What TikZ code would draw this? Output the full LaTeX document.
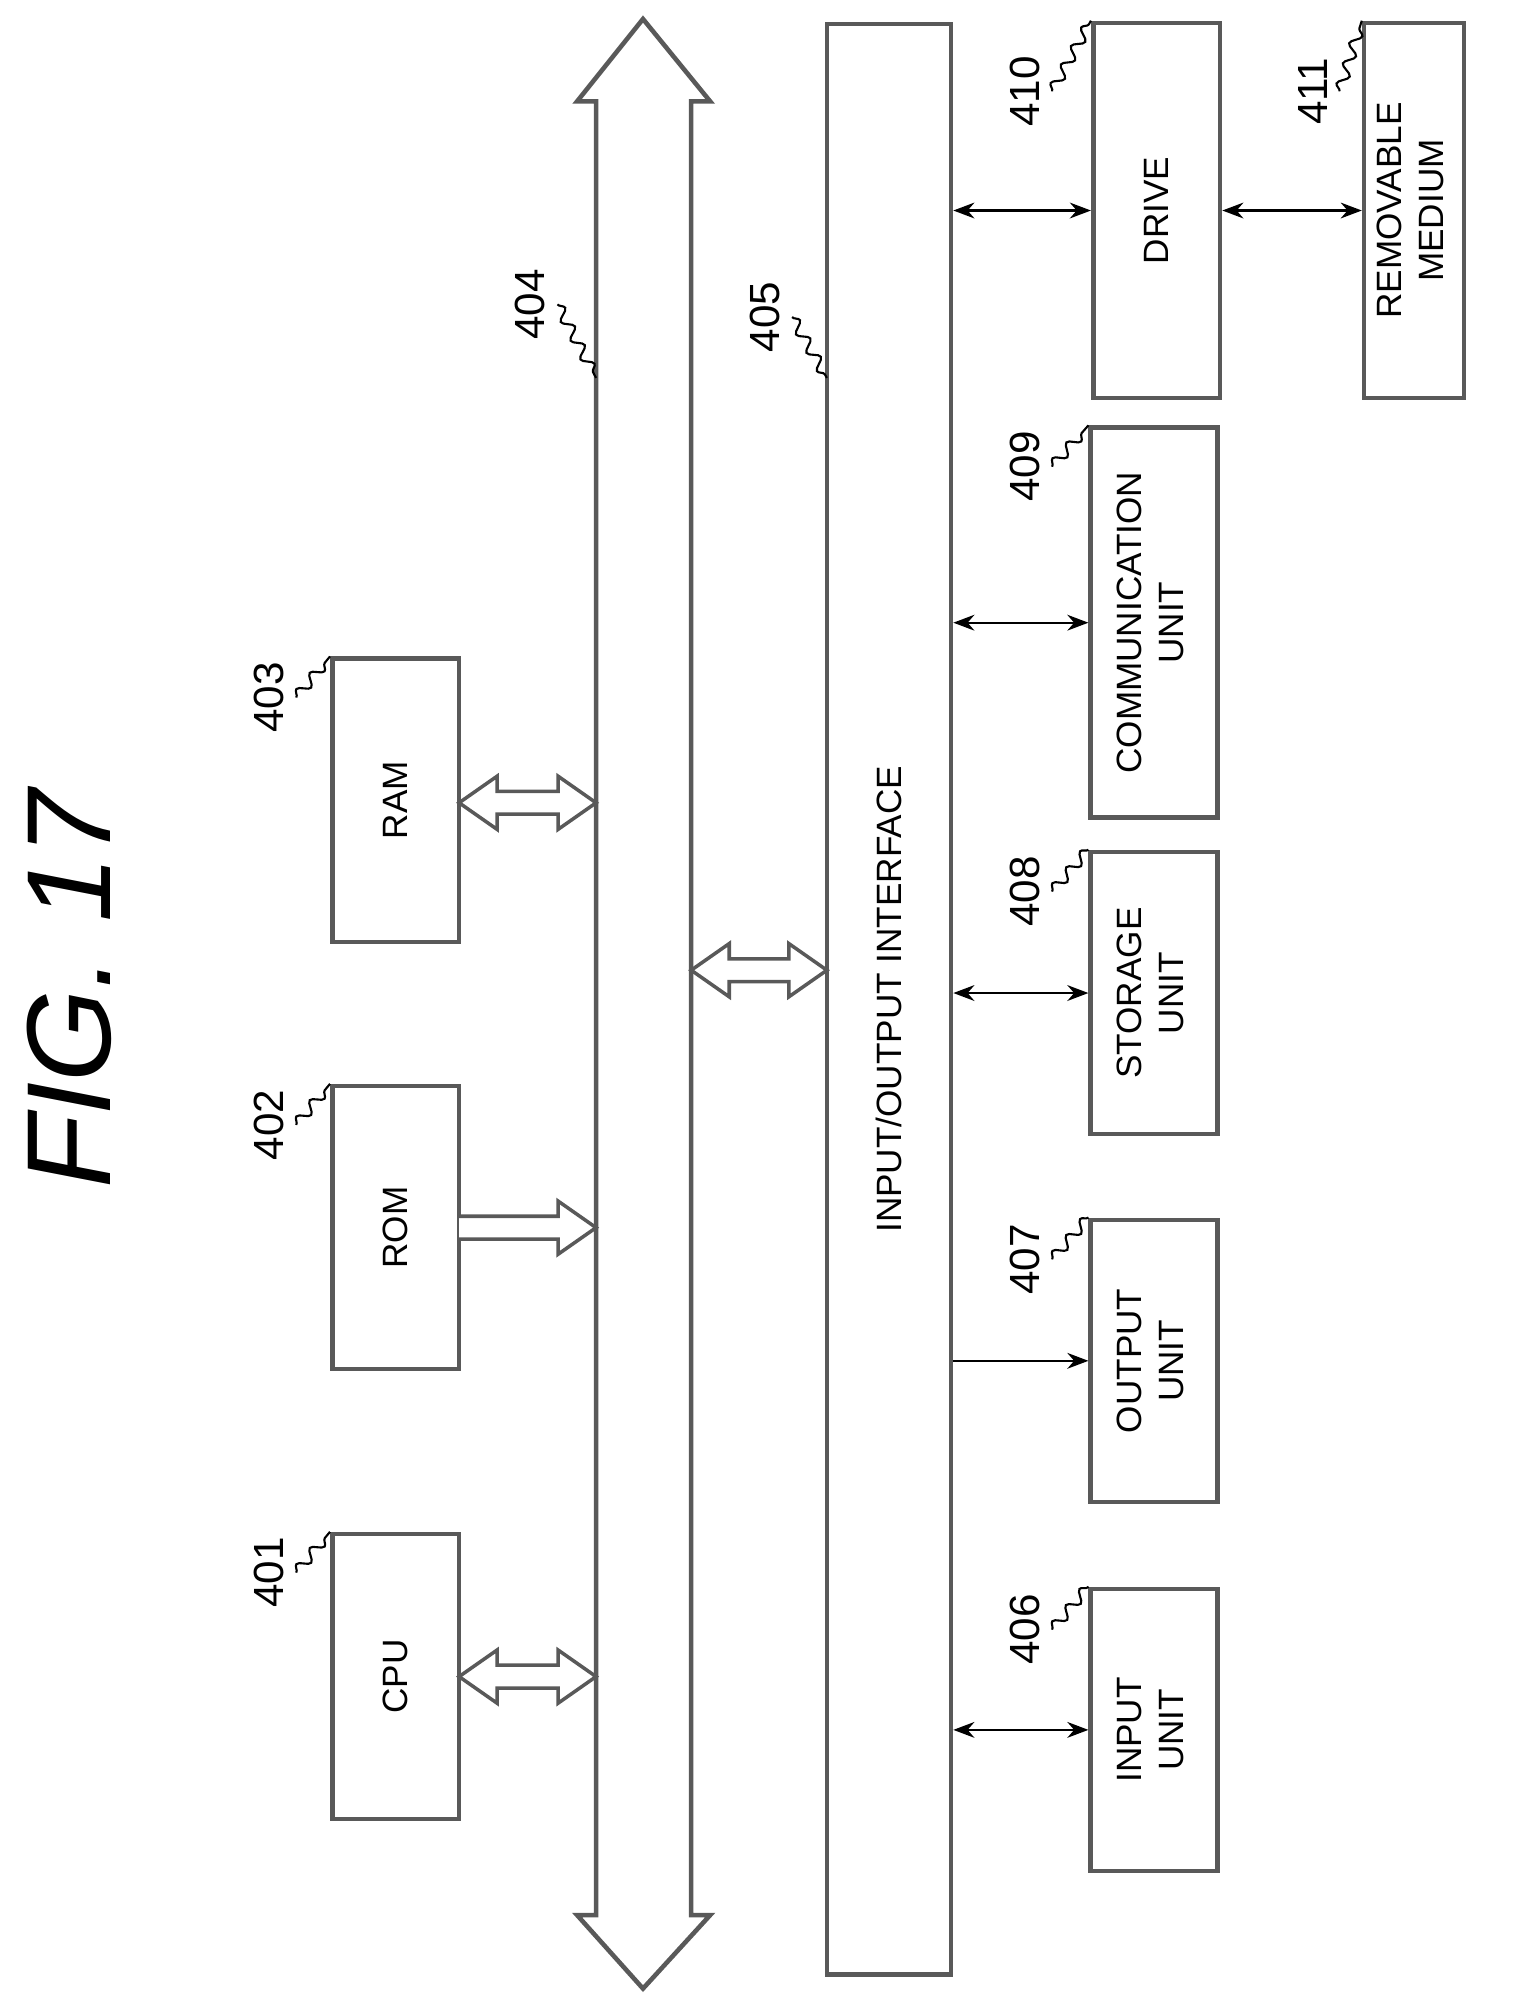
\documentclass[tikz,border=0pt]{standalone}
\usepackage{fontspec}
\setmainfont{Liberation Sans}
\usetikzlibrary{arrows.meta,decorations.pathmorphing}

\tikzset{
  blk/.style={draw=gray!70!black, line width=1.3pt, inner sep=0pt, font=\fontsize{10}{12}\selectfont, align=center},
  lbl/.style={rotate=90, font=\fontsize{12}{14}\selectfont},
  wig/.style={draw, semithick, decorate, decoration={snake, amplitude=1.5pt, segment length=6pt}},
  hol/.style={draw=gray!70!black, line width=1pt, fill=white},
  lnk/.style={draw, semithick, {Stealth[length=6pt]}-{Stealth[length=6pt]}}
}
% hollow double arrow: \hollowboth{y}{x left}{x right}
\newcommand{\hollowboth}[3]{\draw[hol] (#2+30,#1-9) -- (#3-30,#1-9) -- (#3-30,#1-21) -- (#3,#1) -- (#3-30,#1+21)
  -- (#3-30,#1+9) -- (#2+30,#1+9) -- (#2+30,#1+21) -- (#2,#1) -- (#2+30,#1-21) -- cycle;}

\begin{document}
\begin{tikzpicture}[x=0.01268cm, y=-0.01268cm]
\useasboundingbox (0,0) rectangle (1200,1577);

\node[rotate=90, font=\fontsize{34}{40}\selectfont\itshape] (fig) at (55,780) {FIG. 17};

% bus
\draw[draw=gray!70!black, line width=1.3pt] (470,1510) -- (470,80) -- (455,80) -- (507,15) -- (560,80) -- (545,80)
  -- (545,1510) -- (560,1510) -- (507,1568) -- (455,1510) -- cycle;

% boxes
\node[blk] (cpu) at (312,1322) [minimum width=1.268cm, minimum height=2.85cm] {\rotatebox{90}{CPU}};
\node[blk] (rom) at (312,968) [minimum width=1.268cm, minimum height=2.83cm] {\rotatebox{90}{ROM}};
\node[blk] (ram) at (312,631) [minimum width=1.268cm, minimum height=2.83cm] {\rotatebox{90}{RAM}};
\node[blk] (io) at (701,788) [minimum width=1.24cm, minimum height=19.5cm] {\rotatebox{90}{INPUT/OUTPUT INTERFACE}};
\node[blk] (inp) at (910,1364) [minimum width=1.268cm, minimum height=2.82cm] {\rotatebox{90}{\begin{tabular}{c}INPUT\\UNIT\end{tabular}}};
\node[blk] (out) at (910,1073) [minimum width=1.268cm, minimum height=2.82cm] {\rotatebox{90}{\begin{tabular}{c}OUTPUT\\UNIT\end{tabular}}};
\node[blk] (sto) at (910,783) [minimum width=1.268cm, minimum height=2.82cm] {\rotatebox{90}{\begin{tabular}{c}STORAGE\\UNIT\end{tabular}}};
\node[blk] (com) at (910,491) [minimum width=1.268cm, minimum height=3.9cm] {\rotatebox{90}{\begin{tabular}{c}COMMUNICATION\\UNIT\end{tabular}}};
\node[blk] (drv) at (912,166) [minimum width=1.268cm, minimum height=3.75cm] {\rotatebox{90}{DRIVE}};
\node[blk] (rmv) at (1115,166) [minimum width=1.0cm, minimum height=3.75cm] {\rotatebox{90}{\begin{tabular}{c}REMOVABLE\\MEDIUM\end{tabular}}};

% hollow arrows
\hollowboth{1322}{362}{470}
\draw[hol] (362,959) -- (440,959) -- (440,947) -- (470,968) -- (440,989) -- (440,977) -- (362,977);
\hollowboth{633}{362}{470}
\hollowboth{765}{545}{652}

% thin arrows
\draw[lnk] (io.east |- inp) -- (inp.west);
\draw[semithick, -{Stealth[length=6pt]}] (io.east |- out) -- (out.west);
\draw[lnk] (io.east |- sto) -- (sto.west);
\draw[lnk] (io.east |- com) -- (com.west);
\draw[lnk] (io.east |- drv) -- (drv.west);
\draw[lnk] (drv.east) -- (rmv.west);

% reference labels
\node[lbl] (l401) at (212,1240) {401};
\draw[wig] (l401.south) -- (cpu.north west);
\node[lbl] (l402) at (212,887) {402};
\draw[wig] (l402.south) -- (rom.north west);
\node[lbl] (l403) at (212,550) {403};
\draw[wig] (l403.south) -- (ram.north west);
\node[lbl] (l404) at (418,240) {404};
\coordinate (b404) at (470,298);
\draw[wig] (l404.south) -- (b404);
\node[lbl] (l405) at (603,250) {405};
\coordinate (b405) at (652,298);
\draw[wig] (l405.south) -- (b405);
\node[lbl] (l406) at (808,1285) {406};
\draw[wig] (l406.south) -- (inp.north west);
\node[lbl] (l407) at (808,993) {407};
\draw[wig] (l407.south) -- (out.north west);
\node[lbl] (l408) at (808,703) {408};
\draw[wig] (l408.south) -- (sto.north west);
\node[lbl] (l409) at (808,368) {409};
\draw[wig] (l409.south) -- (com.north west);
\node[lbl] (l410) at (808,72) {410};
\draw[wig] (l410.south) -- (drv.north west);
\node[lbl] (l411) at (1035,72) {411};
\draw[wig] (l411.south) -- (rmv.north west);
\end{tikzpicture}
\end{document}
